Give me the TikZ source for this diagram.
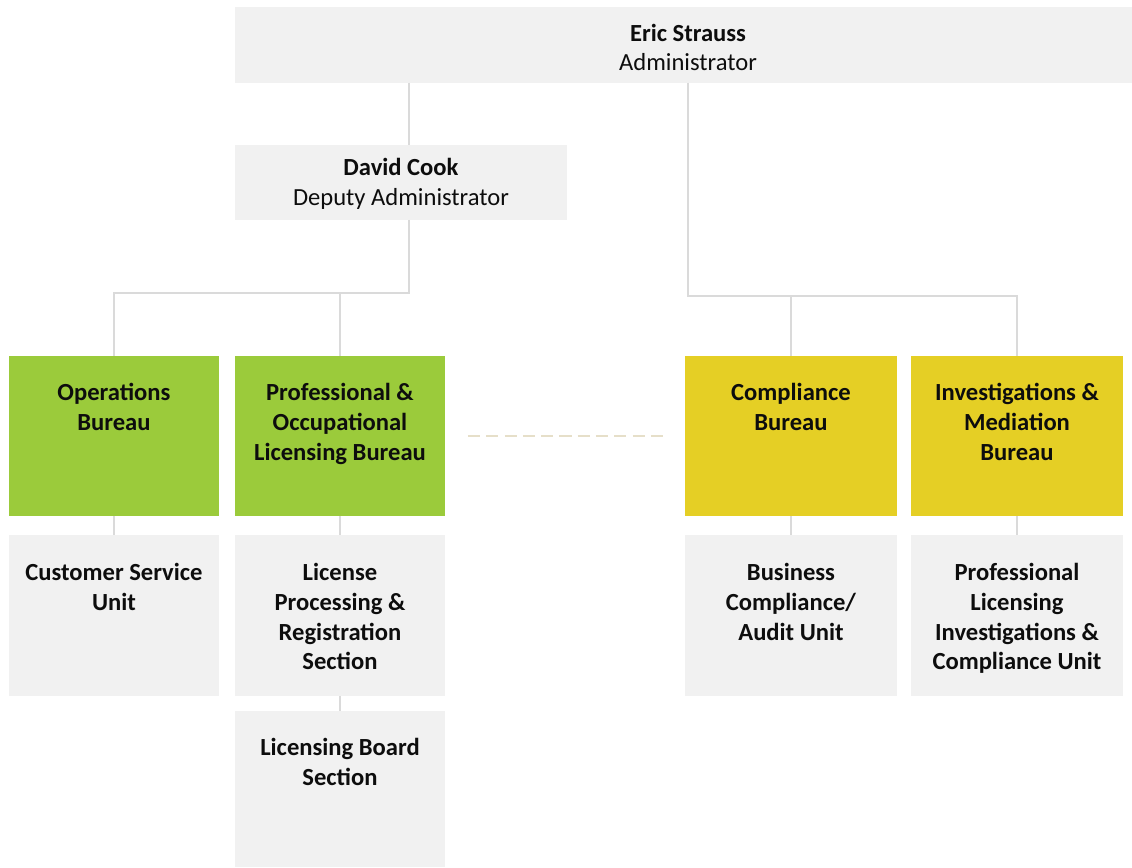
\documentclass[tikz,border=0pt]{standalone}
\usepackage{fontspec}
\setmainfont{Carlito}
\usetikzlibrary{positioning}

\definecolor{greybox}{HTML}{F1F1F1}
\definecolor{greenbox}{HTML}{9BCB3B}
\definecolor{yellowbox}{HTML}{E5CF25}
\definecolor{greyline}{HTML}{DADADA}
\definecolor{beigeline}{HTML}{E6DFC9}

\begin{document}
\begin{tikzpicture}[x=0.02cm,y=-0.02cm]

% styles
\tikzstyle{box}=[rectangle,anchor=north west,inner sep=0,outer sep=0,fill=greybox]
\tikzstyle{head}=[box,minimum height=1.5cm]
\tikzstyle{bureau}=[box,minimum width=4.2cm,minimum height=3.2cm]
\tikzstyle{unit}=[box,minimum width=4.2cm,minimum height=3.22cm]
\tikzstyle{txt}=[anchor=north,align=center,inner sep=0,text=black!95,font=\fontsize{14}{17}\selectfont\bfseries]
\tikzstyle{branch}=[-,draw=greyline,line width=1.1pt]
\tikzstyle{dashes}=[draw=beigeline,line width=1.1pt,dash pattern=on 6.94pt off 3.47pt]

\useasboundingbox (0,0) rectangle (1132,867);

% direction
\node [head,minimum width=17.94cm,minimum height=1.52cm] (admin) at (235,7) {};
\node [head,minimum width=6.64cm] (deputy) at (235,145) {};
\node [txt] (admin-t) at (688,19.8) {\strut Eric Strauss\\\mdseries Administrator};
\node [txt,below=0.19cm of deputy.north] (deputy-t) {\strut David Cook\\\mdseries Deputy Administrator};

% bureaux
\node [bureau,fill=greenbox] (ops) at (9,356) {};
\node [bureau,fill=greenbox] (prof) at (235,356) {};
\node [bureau,fill=yellowbox,minimum width=4.24cm] (comp) at (685,356) {};
\node [bureau,fill=yellowbox,minimum width=4.24cm] (inv) at (911,356) {};
\node [txt,below=0.46cm of ops.north] (ops-t) {\strut Operations\\Bureau};
\node [txt,below=0.46cm of prof.north] (prof-t) {\strut Professional \&\\Occupational\\Licensing Bureau};
\node [txt,below=0.46cm of comp.north] (comp-t) {\strut Compliance\\Bureau};
\node [txt,below=0.46cm of inv.north] (inv-t) {\strut Investigations \&\\Mediation\\Bureau};

% units
\node [unit] (csu) at (9,535) {};
\node [unit] (lps) at (235,535) {};
\node [unit,minimum height=3.12cm] (lbs) at (235,711) {};
\node [unit,minimum width=4.24cm] (bcu) at (685,535) {};
\node [unit,minimum width=4.24cm] (plic) at (911,535) {};
\node [txt,below=0.48cm of csu.north] (csu-t) {\strut Customer Service\\Unit};
\node [txt,below=0.48cm of lps.north] (lps-t) {\strut License\\Processing \&\\Registration\\Section};
\node [txt,below=0.46cm of lbs.north] (lbs-t) {\strut Licensing Board\\Section};
\node [txt,below=0.48cm of bcu.north] (bcu-t) {\strut Business\\Compliance/\\Audit Unit};
\node [txt,below=0.48cm of plic.north] (plic-t) {\strut Professional\\Licensing\\Investigations \&\\Compliance Unit};

% les liens
\coordinate (jl) at (409,293);
\coordinate (jr) at (688,296);
\draw[branch] (admin.south -| jl) -- (deputy.north -| jl);
\draw[branch] (deputy.south -| jl) -- (jl) -| (ops.north);
\draw[branch] (jl -| prof.north) -- (prof.north);
\draw[branch] (admin.south -| jr) -- (jr) -| (inv.north);
\draw[branch] (jr -| comp.north) -- (comp.north);
\draw[branch] (ops.south) -- (csu.north);
\draw[branch] (prof.south) -- (lps.north);
\draw[branch] (lps.south) -- (lbs.north);
\draw[branch] (comp.south) -- (bcu.north);
\draw[branch] (inv.south) -- (plic.north);
\draw[dashes] ([xshift=0.46cm]prof.east) -- ([xshift=-0.44cm]comp.west);

\end{tikzpicture}
\end{document}
